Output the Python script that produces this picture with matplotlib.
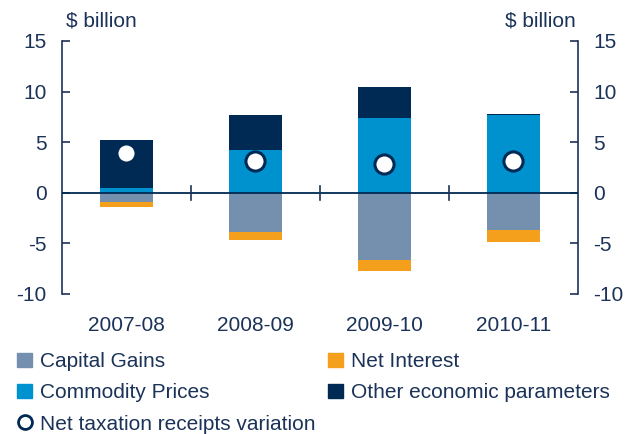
import matplotlib.pyplot as plt
from matplotlib.lines import Line2D
from matplotlib.patches import Patch
import numpy as np

years = ["2007-08", "2008-09", "2009-10", "2010-11"]
capital_gains = [-0.9, -3.85, -6.6, -3.7]
net_interest = [-0.5, -0.8, -1.1, -1.15]
commodity_prices = [0.5, 4.2, 7.4, 7.7]
other_params = [4.7, 3.5, 3.05, 0.1]
net_variation = [3.9, 3.15, 2.8, 3.15]

c_cap = "#7590ae"
c_int = "#f5a01c"
c_com = "#0092cf"
c_oth = "#002a54"
c_txt = "#1b3358"

plt.rcParams["font.family"] = ["Liberation Sans", "DejaVu Sans"]
plt.rcParams["axes.unicode_minus"] = False

fig = plt.figure(figsize=(6.43, 4.34), dpi=100)
ax = fig.add_axes([0.0964, 0.3226, 0.8025, 0.583])

x = np.arange(len(years))
w = 0.41
ax.bar(x, capital_gains, w, color=c_cap, zorder=2)
ax.bar(x, net_interest, w, bottom=capital_gains, color=c_int, zorder=2)
ax.bar(x, commodity_prices, w, color=c_com, zorder=2)
ax.bar(x, other_params, w, bottom=commodity_prices, color=c_oth, zorder=2)
ax.scatter(x, net_variation, s=190, facecolor="white", edgecolor=c_oth,
           linewidth=2.2, zorder=4)

ax.axhline(0, color=c_oth, lw=1.3, zorder=3)
for b in [0.5, 1.5, 2.5]:
    ax.plot([b, b], [-0.7, 0.7], color=c_txt, lw=1.2, zorder=3)

ax.set_xlim(-0.5, 3.5)
ax.set_ylim(-10, 15)
ax.set_yticks([-10, -5, 0, 5, 10, 15])
ax.set_xticks(x)
ax.set_xticklabels(years)

for s in ["top", "bottom"]:
    ax.spines[s].set_visible(False)
for s in ["left", "right"]:
    ax.spines[s].set_color(c_txt)
    ax.spines[s].set_linewidth(1.2)

ax.tick_params(axis="y", direction="in", length=6, width=1.2, color=c_txt,
               labelcolor=c_txt, labelsize=15, pad=11,
               left=True, right=True, labelleft=True, labelright=True)
ax.tick_params(axis="x", length=0, labelcolor=c_txt, labelsize=15, pad=16)

fig.text(0.103, 0.952, "$ billion", color=c_txt, fontsize=15, ha="left", va="center")
fig.text(0.895, 0.952, "$ billion", color=c_txt, fontsize=15, ha="right", va="center")

handles = [
    Patch(color=c_cap, label="Capital Gains"),
    Patch(color=c_com, label="Commodity Prices"),
    Line2D([], [], marker="o", ls="none", markersize=10, markerfacecolor="white",
           markeredgecolor=c_oth, markeredgewidth=2, label="Net taxation receipts variation"),
    Patch(color=c_int, label="Net Interest"),
    Patch(color=c_oth, label="Other economic parameters"),
]
leg = fig.legend(handles=handles, ncol=2, loc="upper left", bbox_to_anchor=(0.027, 0.188),
                 frameon=False, fontsize=15, handlelength=0.7, handleheight=0.7,
                 handletextpad=0.4, labelspacing=0.58, columnspacing=0.6,
                 borderpad=0, borderaxespad=0)
for t in leg.get_texts():
    t.set_color(c_txt)

fig.savefig("out.png", dpi=100)
